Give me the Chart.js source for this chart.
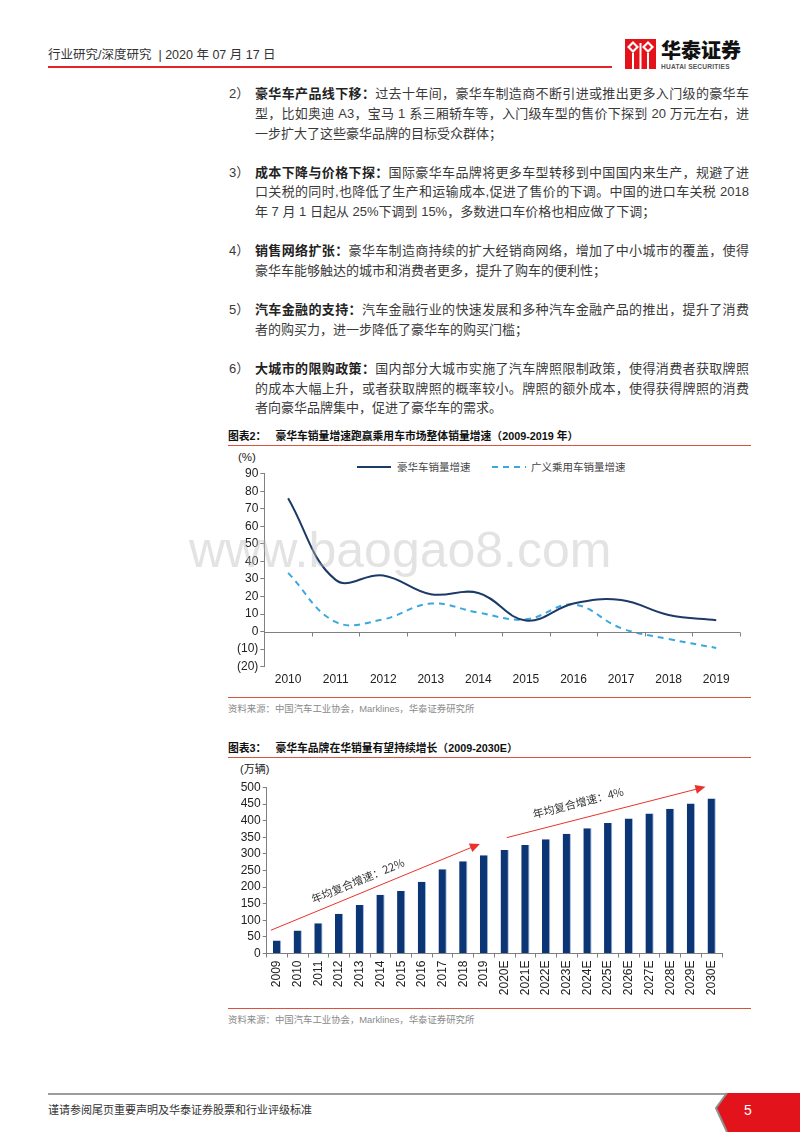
<!DOCTYPE html>
<html>
<head>
<meta charset="utf-8">
<script src="https://cdn.jsdelivr.net/npm/chart.js@4.4.0/dist/chart.umd.min.js"></script>
<style>
body { margin: 0; width: 800px; height: 1132px; position: relative; background: #fff; overflow: hidden;
       font-family: "Liberation Sans", "Noto Sans CJK SC", sans-serif; color: #333; }
.abs { position: absolute; white-space: nowrap; }
.ln { position: absolute; left: 255px; width: 494px; height: 20px; line-height: 20px; font-size: 13px; color: #3a3a3a;
      text-align: justify; text-align-last: justify; overflow: visible; }
.ln.last { text-align-last: left; }
.num { position: absolute; left: 229px; height: 20px; line-height: 20px; font-size: 13px; color: #3a3a3a; }
b { font-weight: 700; color: #222; }
.title { position: absolute; left: 228px; font-size: 10.8px; font-weight: 700; color: #111; height: 14px; line-height: 14px; white-space: nowrap; }
.rule { position: absolute; left: 228px; width: 523px; height: 1px; background: #d9533f; }
.src { position: absolute; left: 228px; font-size: 9.4px; color: #8a8a8a; height: 12px; line-height: 12px; white-space: nowrap; }
.box { position: absolute; }
</style>
</head>
<body>

<!-- header -->
<div class="abs" style="left:48px;top:47px;font-size:12.5px;line-height:16px;color:#333">行业研究/深度研究 &nbsp;| 2020 年 07 月 17 日</div>
<div class="abs" style="left:48px;top:66px;width:564px;height:1.5px;background:#e0262b"></div>
<svg class="abs" style="left:625px;top:39px" width="31" height="30" viewBox="0 0 31 30">
  <rect x="0" y="0" width="31" height="30" fill="#e3131b"/>
  <path d="M8 2 L14 8 L8 14 L2 8 Z" fill="#fff"/>
  <path d="M23 2 L29 8 L23 14 L17 8 Z" fill="#fff"/>
  <path d="M8 5 L11 8 L8 11 L5 8 Z" fill="#e3131b"/>
  <path d="M23 5 L26 8 L23 11 L20 8 Z" fill="#e3131b"/>
  <rect x="7" y="14" width="2" height="16" fill="#fff"/>
  <rect x="14.5" y="4" width="2" height="26" fill="#fff"/>
  <rect x="22" y="14" width="2" height="16" fill="#fff"/>
</svg>
<div class="abs" style="left:661px;top:38px;font-size:20px;line-height:24px;font-weight:900;color:#111;font-family:'Noto Sans CJK SC'">华泰证券</div>
<div class="abs" style="left:661px;top:63px;font-size:6.6px;line-height:8px;font-weight:700;color:#555;letter-spacing:0.2px">HUATAI SECURITIES</div>

<!-- body text -->
<div class="num" style="top:84px">2）</div>
<div class="ln" style="top:84px"><b>豪华车产品线下移：</b>过去十年间，豪华车制造商不断引进或推出更多入门级的豪华车</div>
<div class="ln" style="top:103.8px">型，比如奥迪 A3，宝马 1 系三厢轿车等，入门级车型的售价下探到 20 万元左右，进</div>
<div class="ln last" style="top:123.6px">一步扩大了这些豪华品牌的目标受众群体；</div>

<div class="num" style="top:162.6px">3）</div>
<div class="ln" style="top:162.6px"><b>成本下降与价格下探：</b>国际豪华车品牌将更多车型转移到中国国内来生产，规避了进</div>
<div class="ln" style="top:182.4px">口关税的同时,也降低了生产和运输成本,促进了售价的下调。中国的进口车关税 2018</div>
<div class="ln last" style="top:202.2px">年 7 月 1 日起从 25%下调到 15%，多数进口车价格也相应做了下调；</div>

<div class="num" style="top:241.2px">4）</div>
<div class="ln" style="top:241.2px"><b>销售网络扩张：</b>豪华车制造商持续的扩大经销商网络，增加了中小城市的覆盖，使得</div>
<div class="ln last" style="top:261px">豪华车能够触达的城市和消费者更多，提升了购车的便利性；</div>

<div class="num" style="top:300px">5）</div>
<div class="ln" style="top:300px"><b>汽车金融的支持：</b>汽车金融行业的快速发展和多种汽车金融产品的推出，提升了消费</div>
<div class="ln last" style="top:319.8px">者的购买力，进一步降低了豪华车的购买门槛；</div>

<div class="num" style="top:358.8px">6）</div>
<div class="ln" style="top:358.8px"><b>大城市的限购政策：</b>国内部分大城市实施了汽车牌照限制政策，使得消费者获取牌照</div>
<div class="ln" style="top:378.6px">的成本大幅上升，或者获取牌照的概率较小。牌照的额外成本，使得获得牌照的消费</div>
<div class="ln last" style="top:398.4px">者向豪华品牌集中，促进了豪华车的需求。</div>

<!-- chart 2 -->
<div class="title" style="top:429px">图表2：&nbsp;&nbsp;&nbsp;豪华车销量增速跑赢乘用车市场整体销量增速（2009-2019 年）</div>
<div class="rule" style="top:445px"></div>
<div class="abs" style="left:238px;top:450px;font-size:11.5px;line-height:14px;color:#222">(%)</div>
<svg class="abs" style="left:357px;top:462px" width="40" height="10"><line x1="0" y1="5" x2="34" y2="5" stroke="#1b3a68" stroke-width="2"/></svg>
<div class="abs" style="left:397px;top:460px;font-size:10.5px;line-height:14px;color:#444">豪华车销量增速</div>
<svg class="abs" style="left:492px;top:462px" width="40" height="10"><line x1="0" y1="5" x2="34" y2="5" stroke="#3aa8dc" stroke-width="2" stroke-dasharray="6,5"/></svg>
<div class="abs" style="left:531px;top:460px;font-size:10.5px;line-height:14px;color:#444">广义乘用车销量增速</div>
<div class="box" style="left:218px;top:464px;width:532px;height:231px"><canvas id="growth" width="532" height="231"></canvas></div>
<div class="abs" style="left:189px;top:525px;font-size:50px;line-height:50px;color:rgba(185,185,185,0.4);pointer-events:none">www.baogao8.com</div>
<div class="rule" style="top:697px"></div>
<div class="src" style="top:703px">资料来源：中国汽车工业协会，Marklines，华泰证券研究所</div>

<!-- chart 3 -->
<div class="title" style="top:741px">图表3：&nbsp;&nbsp;&nbsp;豪华车品牌在华销量有望持续增长（2009-2030E）</div>
<div class="rule" style="top:757px"></div>
<div class="abs" style="left:240px;top:762px;font-size:11px;line-height:14px;color:#222">(万辆)</div>
<div class="box" style="left:218px;top:777px;width:514px;height:229px"><canvas id="sales" width="514" height="229"></canvas></div>
<div class="rule" style="top:1008px"></div>
<div class="src" style="top:1014px">资料来源：中国汽车工业协会，Marklines，华泰证券研究所</div>

<!-- footer -->
<div class="abs" style="left:48px;top:1093px;width:679px;height:2px;background:#9d9d9d"></div>
<svg class="abs" style="left:710px;top:1092px" width="90" height="40">
  <polygon points="17,1 90,1 90,40 17,40 6,16" fill="#e3131b"/>
  <polyline points="17,1 6,16 17,40" fill="none" stroke="#8f8f8f" stroke-width="2"/>
</svg>
<div class="abs" style="left:744px;top:1101px;font-size:14px;line-height:18px;color:#fff">5</div>
<div class="abs" style="left:48px;top:1103px;font-size:11px;line-height:14px;color:#333">谨请参阅尾页重要声明及华泰证券股票和行业评级标准</div>

<script>
'use strict';

// chart 2 data: sales growth (%)
var growthYears = ['2010', '2011', '2012', '2013', '2014', '2015', '2016', '2017', '2018', '2019'];
var luxuryGrowth = [76, 29.5, 32, 21.3, 22, 6.3, 16, 18, 9.5, 6.5];
var passengerGrowth = [33.5, 5.5, 7, 16, 10.8, 7, 15.5, 2, -4.2, -9.3];

// chart 3 data: luxury sales in China (10k units)
var salesYears = ['2009', '2010', '2011', '2012', '2013', '2014', '2015', '2016', '2017', '2018', '2019',
    '2020E', '2021E', '2022E', '2023E', '2024E', '2025E', '2026E', '2027E', '2028E', '2029E', '2030E'];
var luxurySales = [39, 69, 91, 120, 146, 177, 188, 216, 254, 278, 296,
    312, 327, 344, 361, 377, 393, 407, 422, 436, 452, 467];

// CAGR arrows, as [category index, value]
var arrowFrom = [[-0.3, 70], [11.1, 349]];
var arrowTo = [[9.8, 330], [20.7, 502]];
var cagrLabels = ['年均复合增速：22%', '年均复合增速：4%'];
var cagrAt = [[3.9, 219], [14.55, 454]];

var tickFont = {family: 'Liberation Sans', size: 12};
var axisGrey = '#7f7f7f';

Chart.defaults.font.family = 'Liberation Sans';

// zero line with tick marks between categories
var zeroAxis = {
    id: 'zeroAxis',
    afterDatasetsDraw: function(chart) {
        var xs = chart.scales.x, ys = chart.scales.y, ctx = chart.ctx;
        var y0 = Math.round(ys.getPixelForValue(0)) + 0.5;
        ctx.save();
        ctx.strokeStyle = axisGrey;
        ctx.lineWidth = 1;
        ctx.beginPath();
        ctx.moveTo(chart.chartArea.left, y0);
        ctx.lineTo(chart.chartArea.right, y0);
        for (var i = 0; i <= growthYears.length; i++) {
            var x = Math.round(xs.getPixelForValue(i - 0.5)) + 0.5;
            ctx.moveTo(x, y0);
            ctx.lineTo(x, y0 + 4);
        }
        ctx.stroke();
        ctx.restore();
    }
};

// red arrows with rotated CAGR labels
var cagrArrows = {
    id: 'cagrArrows',
    afterDatasetsDraw: function(chart) {
        var xs = chart.scales.x, ys = chart.scales.y, ctx = chart.ctx;
        ctx.save();
        arrowFrom.forEach((from, i) => {
            var x0 = xs.getPixelForValue(from[0]), y0 = ys.getPixelForValue(from[1]);
            var x1 = xs.getPixelForValue(arrowTo[i][0]), y1 = ys.getPixelForValue(arrowTo[i][1]);
            var ang = Math.atan2(y1 - y0, x1 - x0);
            ctx.strokeStyle = '#e8322b';
            ctx.fillStyle = '#e8322b';
            ctx.lineWidth = 1;
            ctx.beginPath();
            ctx.moveTo(x0, y0);
            ctx.lineTo(x1 - 8 * Math.cos(ang), y1 - 8 * Math.sin(ang));
            ctx.stroke();
            ctx.beginPath();
            ctx.moveTo(x1, y1);
            ctx.lineTo(x1 - 10 * Math.cos(ang) + 4.5 * Math.sin(ang), y1 - 10 * Math.sin(ang) - 4.5 * Math.cos(ang));
            ctx.lineTo(x1 - 10 * Math.cos(ang) - 4.5 * Math.sin(ang), y1 - 10 * Math.sin(ang) + 4.5 * Math.cos(ang));
            ctx.closePath();
            ctx.fill();

            var lx = xs.getPixelForValue(cagrAt[i][0]), ly = ys.getPixelForValue(cagrAt[i][1]);
            ctx.translate(lx, ly);
            ctx.rotate(ang);
            ctx.fillStyle = '#333';
            ctx.font = '11px "Noto Sans CJK SC"';
            ctx.textAlign = 'center';
            ctx.textBaseline = 'middle';
            ctx.fillText(cagrLabels[i], 0, 0);
            ctx.setTransform(1, 0, 0, 1, 0, 0);
        });
        ctx.restore();
    }
};

new Chart(document.getElementById('growth'), {
    type: 'line',
    data: {
        labels: growthYears,
        datasets: [{
            label: '豪华车销量增速',
            data: luxuryGrowth,
            borderColor: '#1b3a68',
            borderWidth: 2,
            tension: 0.4,
            pointRadius: 0,
            fill: false
        }, {
            label: '广义乘用车销量增速',
            data: passengerGrowth,
            borderColor: '#3aa8dc',
            borderWidth: 2,
            borderDash: [6, 5],
            tension: 0.4,
            pointRadius: 0,
            fill: false
        }]
    },
    options: {
        responsive: false,
        animation: false,
        devicePixelRatio: 1,
        layout: {padding: {top: 9.7, right: 10, left: 0, bottom: 0}},
        plugins: {legend: {display: false}, tooltip: {enabled: false}},
        scales: {
            x: {
                offset: true,
                grid: {display: false, drawTicks: false},
                border: {display: false},
                ticks: {padding: 6, color: '#222', font: tickFont, maxRotation: 0},
                afterFit: s => { s.height = 28.3; }
            },
            y: {
                min: -20,
                max: 90,
                ticks: {stepSize: 10, autoSkip: false, padding: 2, color: '#222', font: tickFont,
                    callback: v => v < 0 ? '(' + (-v) + ')' : v},
                grid: {drawOnChartArea: false, tickLength: 4, color: axisGrey},
                border: {color: axisGrey},
                afterFit: s => { s.width = 46.3; }
            }
        }
    },
    plugins: [zeroAxis]
});

new Chart(document.getElementById('sales'), {
    type: 'bar',
    data: {
        labels: salesYears,
        datasets: [{
            data: luxurySales,
            backgroundColor: '#0b3574',
            borderColor: '#9fbbe0',
            borderWidth: {top: 0, right: 1, bottom: 0, left: 0},
            barPercentage: 0.4,
            categoryPercentage: 1
        }]
    },
    options: {
        responsive: false,
        animation: false,
        devicePixelRatio: 1,
        layout: {padding: {top: 10.5, right: 10, left: 0, bottom: 0}},
        plugins: {legend: {display: false}, tooltip: {enabled: false}},
        scales: {
            x: {
                grid: {drawOnChartArea: false, tickLength: 4, color: axisGrey, offset: true},
                border: {color: axisGrey},
                ticks: {minRotation: 90, maxRotation: 90, autoSkip: false, padding: 3, color: '#222', font: tickFont},
                afterFit: s => { s.height = 52.5; }
            },
            y: {
                min: 0,
                max: 500,
                ticks: {stepSize: 50, autoSkip: false, padding: 2, color: '#222', font: tickFont},
                grid: {drawOnChartArea: false, tickLength: 4, color: axisGrey},
                border: {color: axisGrey},
                afterFit: s => { s.width = 48.7; }
            }
        }
    },
    plugins: [cagrArrows]
});
</script>
</body>
</html>
